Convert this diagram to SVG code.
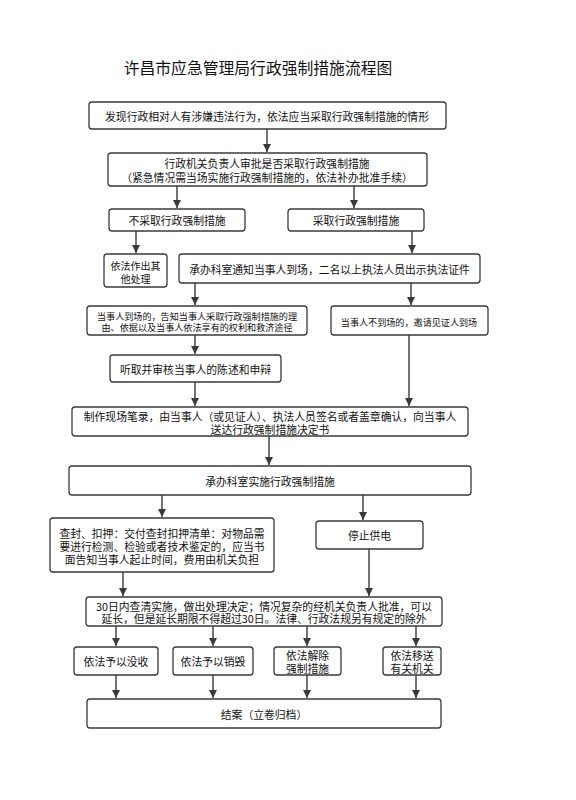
<svg xmlns="http://www.w3.org/2000/svg" width="576" height="800" viewBox="0 0 576 800">
<style>
.b{fill:#fff;stroke:#3a3a3a;stroke-width:1.3}
.t{font-family:"Noto Sans CJK SC","Noto Sans",sans-serif;font-size:10.8px;fill:#111;text-anchor:middle;dominant-baseline:central}
.s{font-size:9.1px}
.c{fill:none;stroke:#3a3a3a;stroke-width:1.4}
</style>
<defs>
<marker id="a" markerUnits="userSpaceOnUse" markerWidth="10" markerHeight="10" refX="8" refY="4" orient="auto">
<path d="M0,0 L8,4 L0,8 Z" fill="#3a3a3a"/>
</marker>
</defs>
<rect width="576" height="800" fill="#fff"/>
<text x="258" y="67" class="t" style="font-size:15.8px">许昌市应急管理局行政强制措施流程图</text>

<g id="n1"><rect class="b" x="89" y="102" width="357" height="27" rx="3"/><text class="t" x="267" y="115.5">发现行政相对人有涉嫌违法行为，依法应当采取行政强制措施的情形</text></g>
<g id="n2"><rect class="b" x="108" y="153" width="319" height="33" rx="3"/><text class="t" x="267" y="163">行政机关负责人审批是否采取行政强制措施</text><text class="t" x="267" y="176.5">（紧急情况需当场实施行政强制措施的，依法补办批准手续）</text></g>
<g id="n3"><rect class="b" x="109" y="209" width="136" height="22" rx="3"/><text class="t" x="177" y="220">不采取行政强制措施</text></g>
<g id="n4"><rect class="b" x="288" y="209" width="136" height="22" rx="3"/><text class="t" x="356" y="220">采取行政强制措施</text></g>
<g id="n5"><rect class="b" x="104" y="254" width="63" height="33" rx="3"/><text class="t" x="135.5" y="265" style="font-size:10px">依法作出其</text><text class="t" x="135.5" y="278" style="font-size:10px">他处理</text></g>
<g id="n6"><rect class="b" x="179" y="254" width="301" height="29" rx="3"/><text class="t" x="329.5" y="268.5">承办科室通知当事人到场，二名以上执法人员出示执法证件</text></g>
<g id="n7"><rect class="b" x="87" y="306" width="220" height="29" rx="3"/><text class="t s" x="197" y="315.5">当事人到场的，告知当事人采取行政强制措施的理</text><text class="t s" x="197" y="327">由、依据以及当事人依法享有的权利和救济途径</text></g>
<g id="n8"><rect class="b" x="331" y="306" width="157" height="29" rx="3"/><text class="t s" x="409" y="321.5">当事人不到场的，邀请见证人到场</text></g>
<g id="n9"><rect class="b" x="110" y="355" width="171" height="27" rx="3"/><text class="t" x="195.5" y="368.5">听取并审核当事人的陈述和申辩</text></g>
<g id="n10"><rect class="b" x="72" y="407" width="396" height="29" rx="3"/><text class="t" x="270" y="416">制作现场笔录，由当事人（或见证人）、执法人员签名或者盖章确认，向当事人</text><text class="t" x="270" y="429">送达行政强制措施决定书</text></g>
<g id="n11"><rect class="b" x="69" y="466" width="402" height="29" rx="3"/><text class="t" x="270" y="481">承办科室实施行政强制措施</text></g>
<g id="n12"><rect class="b" x="50" y="518" width="224" height="54" rx="3"/><text class="t" x="162" y="532.5">查封、扣押：交付查封扣押清单：对物品需</text><text class="t" x="162" y="545.5">要进行检测、检验或者技术鉴定的，应当书</text><text class="t" x="162" y="558.5">面告知当事人起止时间，费用由机关负担</text></g>
<g id="n13"><rect class="b" x="316" y="521" width="107" height="28" rx="3"/><text class="t" x="369.5" y="535">停止供电</text></g>
<g id="n14"><rect class="b" x="86" y="597" width="356" height="29" rx="3"/><text class="t" x="264" y="605.5">30日内查清实施，做出处理决定；情况复杂的经机关负责人批准，可以</text><text class="t" x="264" y="618">延长，但是延长期限不得超过30日。法律、行政法规另有规定的除外</text></g>
<g id="n15"><rect class="b" x="74" y="647" width="84" height="28" rx="3"/><text class="t" x="116" y="661">依法予以没收</text></g>
<g id="n16"><rect class="b" x="173" y="647" width="80" height="28" rx="3"/><text class="t" x="213" y="661">依法予以销毁</text></g>
<g id="n17"><rect class="b" x="274" y="647" width="67" height="28" rx="3"/><text class="t" x="307.5" y="655">依法解除</text><text class="t" x="307.5" y="668">强制措施</text></g>
<g id="n18"><rect class="b" x="383" y="647" width="58" height="28" rx="3"/><text class="t" x="412" y="655">依法移送</text><text class="t" x="412" y="668">有关机关</text></g>
<g id="n19"><rect class="b" x="87" y="699" width="354" height="29" rx="3"/><text class="t" x="264" y="714">结案（立卷归档）</text></g>

<g id="connectors">
<line class="c" x1="267" y1="129" x2="267" y2="152" marker-end="url(#a)"/>
<line class="c" x1="177" y1="186" x2="177" y2="208" marker-end="url(#a)"/>
<line class="c" x1="354" y1="186" x2="354" y2="208" marker-end="url(#a)"/>
<line class="c" x1="136" y1="231" x2="136" y2="253" marker-end="url(#a)"/>
<line class="c" x1="412" y1="231" x2="412" y2="253" marker-end="url(#a)"/>
<line class="c" x1="195" y1="283" x2="195" y2="305" marker-end="url(#a)"/>
<line class="c" x1="411" y1="283" x2="411" y2="305" marker-end="url(#a)"/>
<line class="c" x1="195" y1="335" x2="195" y2="354" marker-end="url(#a)"/>
<line class="c" x1="195" y1="382" x2="195" y2="406" marker-end="url(#a)"/>
<line class="c" x1="409" y1="335" x2="409" y2="406" marker-end="url(#a)"/>
<line class="c" x1="269" y1="436" x2="269" y2="465" marker-end="url(#a)"/>
<line class="c" x1="162" y1="495" x2="162" y2="517" marker-end="url(#a)"/>
<line class="c" x1="363" y1="495" x2="363" y2="520" marker-end="url(#a)"/>
<line class="c" x1="123" y1="572" x2="123" y2="596" marker-end="url(#a)"/>
<line class="c" x1="369" y1="549" x2="369" y2="596" marker-end="url(#a)"/>
<line class="c" x1="116" y1="626" x2="116" y2="646" marker-end="url(#a)"/>
<line class="c" x1="213" y1="626" x2="213" y2="646" marker-end="url(#a)"/>
<line class="c" x1="307" y1="626" x2="307" y2="646" marker-end="url(#a)"/>
<line class="c" x1="416" y1="626" x2="416" y2="646" marker-end="url(#a)"/>
<line class="c" x1="116" y1="675" x2="116" y2="698" marker-end="url(#a)"/>
<line class="c" x1="213" y1="675" x2="213" y2="698" marker-end="url(#a)"/>
<line class="c" x1="307" y1="675" x2="307" y2="698" marker-end="url(#a)"/>
<line class="c" x1="416" y1="675" x2="416" y2="698" marker-end="url(#a)"/>
</g>
</svg>
